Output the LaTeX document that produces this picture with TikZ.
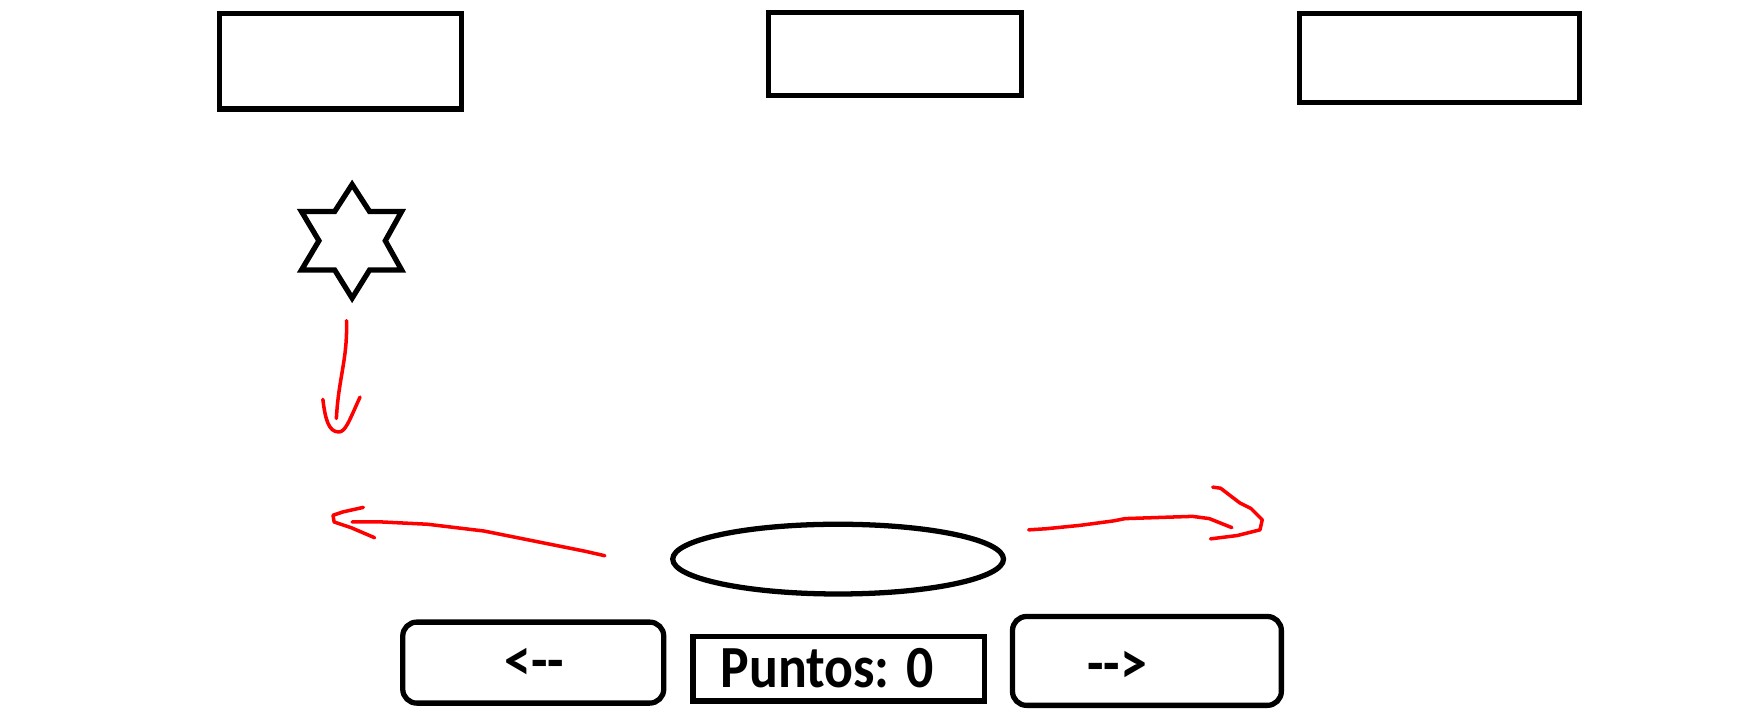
\documentclass[tikz,border=0pt]{standalone}
\usepackage{fontspec}
\setmainfont{Carlito}
\usetikzlibrary{shapes.geometric}
\newcommand{\px}{0.01125cm}
\tikzset{
  box/.style={draw, line width=1.5pt, inner sep=0pt},
  btn/.style={box, rounded corners=1.4mm},
  btntext/.style={font=\fontsize{17}{20}\selectfont\bfseries, inner sep=0pt},
  scribble/.style={draw=red, line width=1pt, line cap=round, line join=round}
}
\begin{document}
\begin{tikzpicture}[x=\px, y=-\px]
        \useasboundingbox (0,0) rectangle (1568,638);
        % top boxes
        \node[box, minimum width=215*\px, minimum height=85*\px] (boxa) at (302.5,54.5) {};
        \node[box, minimum width=225*\px, minimum height=74*\px] (boxb) at (795.5,48) {};
        \node[box, minimum width=249*\px, minimum height=79*\px] (boxc) at (1279.5,51.5) {};
        % falling star
        \draw[line width=1.5pt, line join=miter]
            (313,164) -- (328.5,188) -- (357,188) -- (342.5,214) -- (357,240) -- (328.5,240)
            -- (313,265) -- (297.5,240) -- (268,240) -- (283.5,214) -- (268,188) -- (297.5,188) -- cycle;
        \coordinate (star) at (313,265);
        % player
        \node[draw, ellipse, line width=1.5pt, minimum width=294*\px, minimum height=62*\px] (player) at (745,497) {};
        % buttons
        \node[btn, minimum width=232*\px, minimum height=72*\px] (left) at (474,589) {};
        \node[btntext] at (475,591) {\scalebox{0.9}[1]{<{-}{-}}};
        \node[box, minimum width=259*\px, minimum height=57*\px] (score) at (745.5,594.5) {};
        \node[btntext] at (735,594) {\scalebox{0.9}[1]{Puntos: 0}};
        \node[btn, minimum width=239*\px, minimum height=79*\px] (right) at (1019.5,587.5) {};
        \node[btntext] at (993,593) {\scalebox{0.9}[1]{{-}{-}>}};
        % red arrows
        \draw[scribble] (star) ++(-5,20) .. controls (309,320) and (301,335) .. (299,372);
        \draw[scribble] (287,355) .. controls (289,372) and (292,384) .. (301,384)
            .. controls (307,384) and (310,375) .. (320,353);
        \draw[scribble] (player.west) ++(-58,-3) -- (520,490) -- (505,487) -- (470,480)
            -- (430,472) -- (380,466) -- (340,464) -- (313,464);
        \draw[scribble] (323,451) -- (305,455) -- (296,458) -- (297,464) -- (312,469) -- (333,478);
        \draw[scribble] (player.east) ++(20,-26) -- (930,470) -- (960,467) -- (990,463)
            -- (1000,461) -- (1060,459) -- (1075,461) -- (1090,467) -- (1095,469);
        \draw[scribble] (1078,433) -- (1085,434) -- (1102,447) -- (1112,452) -- (1122,462)
            -- (1120,471) -- (1100,476) -- (1076,479);
\end{tikzpicture}
\end{document}
